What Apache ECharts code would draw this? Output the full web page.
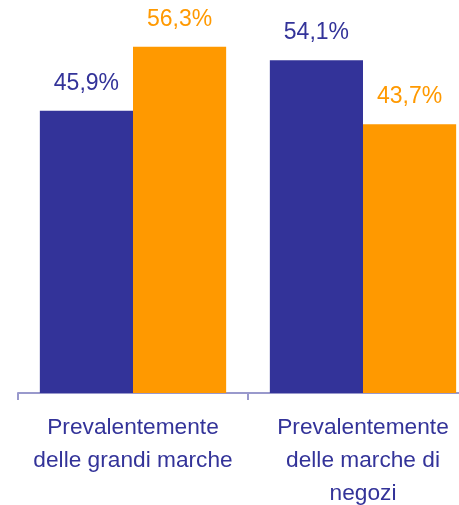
<!DOCTYPE html>
<html>
<head>
<meta charset="utf-8">
<script src="https://cdn.jsdelivr.net/npm/echarts@6/dist/echarts.min.js"></script>
<style>
html,body{margin:0;padding:0;background:#fff;}
#chart{width:459px;height:505px;}
</style>
</head>
<body>
<div id="chart"></div>
<script>
const categories = ["Prevalentemente\ndelle grandi marche", "Prevalentemente\ndelle marche di\nnegozi"];
const seriesBlue = [45.9, 54.1];
const seriesOrange = [56.3, 43.7];

const fmt = p => p.value.toFixed(1).replace('.', ',') + '%';

const chart = echarts.init(document.getElementById('chart'), null, {renderer: 'canvas'});
chart.setOption({
  animation: false,
  backgroundColor: '#ffffff',
  grid: {left: 18, width: 460, top: 24, height: 369, containLabel: false, outerBoundsMode: 'none'},
  xAxis: {
    type: 'category',
    data: categories,
    axisLine: {lineStyle: {color: '#9999cc', width: 2}},
    axisTick: {show: true, length: 7, lineStyle: {color: '#9999cc', width: 2}},
    axisLabel: {
      color: '#333399',
      fontFamily: 'Liberation Sans, Arial, sans-serif',
      fontSize: 22.7,
      lineHeight: 33,
      margin: 18,
      interval: 0
    }
  },
  yAxis: {
    type: 'value',
    min: 0,
    max: 60,
    show: false,
    splitLine: {show: false}
  },
  series: [
    {
      type: 'bar',
      data: seriesBlue,
      barGap: '0%',
      barCategoryGap: '19%',
      itemStyle: {color: '#333399'},
      label: {
        show: true, position: 'top', distance: 16, formatter: fmt,
        color: '#333399', fontSize: 23, fontFamily: 'Liberation Sans, Arial, sans-serif'
      }
    },
    {
      type: 'bar',
      data: seriesOrange,
      barGap: '0%',
      barCategoryGap: '19%',
      itemStyle: {color: '#ff9900'},
      label: {
        show: true, position: 'top', distance: 16, formatter: fmt,
        color: '#ff9900', fontSize: 23, fontFamily: 'Liberation Sans, Arial, sans-serif'
      }
    }
  ]
});
</script>
</body>
</html>
